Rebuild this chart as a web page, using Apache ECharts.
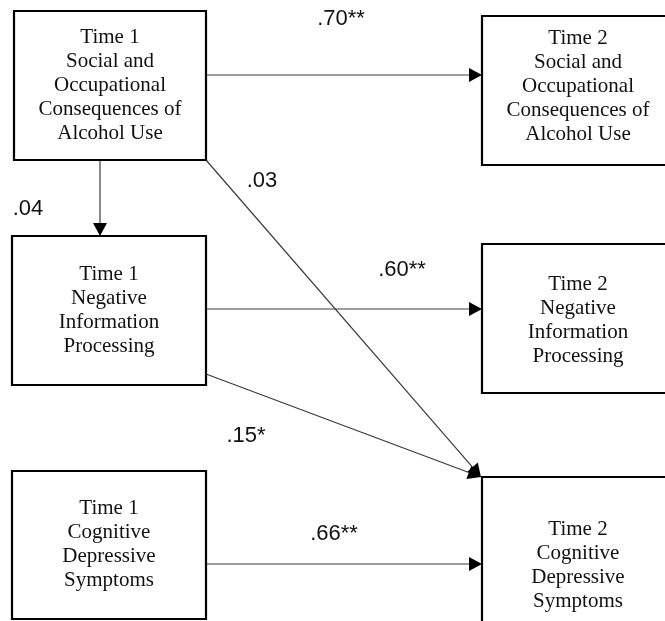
<!DOCTYPE html>
<html>
<head>
<meta charset="utf-8">
<script src="https://cdn.jsdelivr.net/npm/echarts@6/dist/echarts.min.js"></script>
<style>
html,body{margin:0;padding:0;background:#fff;}
#chart{width:665px;height:621px;}
</style>
</head>
<body>
<div id="chart"></div>
<script>
// ---- Data ----
const boxLabels = [
  'Time 1\nSocial and\nOccupational\nConsequences of\nAlcohol Use',
  'Time 2\nSocial and\nOccupational\nConsequences of\nAlcohol Use',
  'Time 1\nNegative\nInformation\nProcessing',
  'Time 2\nNegative\nInformation\nProcessing',
  'Time 1\nCognitive\nDepressive\nSymptoms',
  'Time 2\nCognitive\nDepressive\nSymptoms'
];
const pathFrom = [0, 0, 0, 2, 2, 4];
const pathTo = [1, 2, 5, 3, 5, 5];
const pathCoefficients = ['.70**', '.04', '.03', '.60**', '.15*', '.66**'];

// ---- Layout (diagram coordinates on hidden axes) ----
const boxRects = [
  [14, 11, 206, 160],
  [482, 16, 668, 165],
  [12, 236, 206, 385],
  [482, 244, 668, 393],
  [12, 471, 206, 619],
  [482, 477, 668, 640]
];
const textCenters = [[110, 85], [578, 86], [109, 310], [578, 320], [109, 544], [578, 565]];
const pathPoints = [
  [[206, 75], [482, 75]],
  [[100, 160], [100, 236]],
  [[206, 160], [481, 477]],
  [[206, 309], [482, 309]],
  [[206, 374], [481, 477]],
  [[206, 564], [482, 564]]
];
const labelPositions = [[341, 19], [28, 209], [262, 181], [402, 270], [246, 436], [334, 534]];

const chart = echarts.init(document.getElementById('chart'), null, {renderer: 'canvas'});

const boxData = boxLabels.map((l, i) => [i]);
const pathData = pathFrom.map((f, i) => [i]);
const labelData = pathCoefficients.map((c, i) => [i]);

chart.setOption({
  animation: false,
  backgroundColor: '#fff',
  grid: {left: 0, right: 0, top: 0, bottom: 0},
  xAxis: {type: 'value', min: 0, max: 665, show: false},
  yAxis: {type: 'value', min: 0, max: 621, inverse: true, show: false},
  series: [
    {
      type: 'custom',
      coordinateSystem: 'cartesian2d',
      data: pathData,
      z: 1,
      renderItem: function (params, api) {
        const i = api.value(0);
        const p0 = api.coord(pathPoints[i][0]);
        const p1 = api.coord(pathPoints[i][1]);
        const dx = p1[0] - p0[0], dy = p1[1] - p0[1];
        const len = Math.sqrt(dx * dx + dy * dy);
        const ux = dx / len, uy = dy / len;
        const hl = 13, hw = 7;
        const bx = p1[0] - ux * hl, by = p1[1] - uy * hl;
        return {
          type: 'group',
          children: [
            {type: 'line', shape: {x1: p0[0], y1: p0[1], x2: bx, y2: by},
             style: {stroke: '#3a3a3a', lineWidth: 1.2}},
            {type: 'polygon', shape: {points: [
              [p1[0], p1[1]],
              [bx - uy * hw, by + ux * hw],
              [bx + uy * hw, by - ux * hw]
            ]}, style: {fill: '#000'}}
          ]
        };
      }
    },
    {
      type: 'custom',
      coordinateSystem: 'cartesian2d',
      data: boxData,
      z: 2,
      renderItem: function (params, api) {
        const i = api.value(0);
        const r = boxRects[i];
        const a = api.coord([r[0], r[1]]);
        const b = api.coord([r[2], r[3]]);
        const c = api.coord(textCenters[i]);
        return {
          type: 'group',
          children: [
            {type: 'rect', shape: {x: a[0], y: a[1], width: b[0] - a[0], height: b[1] - a[1]},
             style: {fill: '#fff', stroke: '#000', lineWidth: 2.2}},
            {type: 'text', x: c[0], y: c[1], style: {
              text: boxLabels[i], fill: '#111', font: '21px "Liberation Serif", "Times New Roman", serif',
              lineHeight: 24, align: 'center', verticalAlign: 'middle'}}
          ]
        };
      }
    },
    {
      type: 'custom',
      coordinateSystem: 'cartesian2d',
      data: labelData,
      z: 3,
      renderItem: function (params, api) {
        const i = api.value(0);
        const c = api.coord(labelPositions[i]);
        return {
          type: 'text', x: c[0], y: c[1], style: {
            text: pathCoefficients[i], fill: '#111',
            font: '22px "Liberation Sans", Arial, Helvetica, sans-serif',
            align: 'center', verticalAlign: 'middle'}
        };
      }
    }
  ]
});
</script>
</body>
</html>
